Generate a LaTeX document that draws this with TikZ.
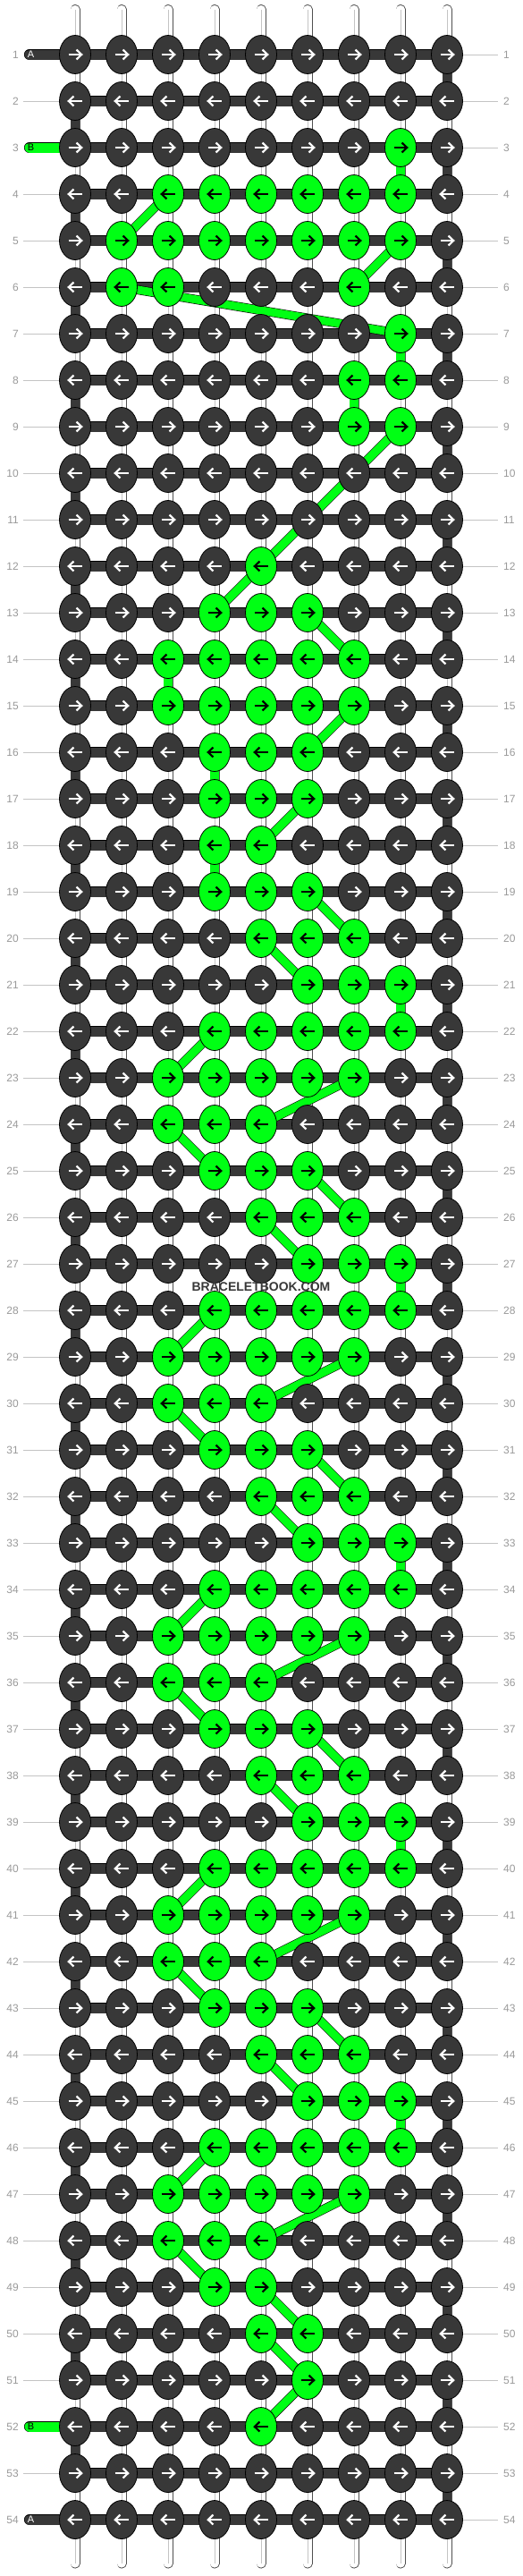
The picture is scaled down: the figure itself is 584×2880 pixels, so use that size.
\documentclass[tikz,border=0pt]{standalone}
\usepackage{fontspec}
\setmainfont{Liberation Sans}
\usetikzlibrary{shapes.geometric}
\definecolor{dk}{HTML}{383838}
\definecolor{gr}{HTML}{00FF14}
\definecolor{lb}{HTML}{9A9A9A}
\definecolor{ln}{HTML}{C4C4C4}
\definecolor{so}{HTML}{505050}
\pgfdeclarelayer{strings}
\pgfdeclarelayer{links}
\pgfsetlayers{strings,links,main}
\begin{document}
\begin{tikzpicture}[x=1pt,y=-1pt,
 knot/.style={ellipse, draw=black, line width=0.8pt, minimum width=35pt, minimum height=43pt, inner sep=0pt},
 arr/.style={line width=2.2pt},
 vstring/.style={draw=so, double=white, double distance=9.2pt, line width=0.9pt, line cap=round},
 vcore/.style={draw=ln, line width=0.7pt},
 hbar/.style={draw=black, double=dk, double distance=11pt, line width=0.6pt},
 dseg/.style={draw=black, double=dk, double distance=9.6pt, line width=0.6pt},
 gseg/.style={draw=black, double=gr, double distance=9.6pt, line width=0.6pt},
 gband/.style={draw=black, double=gr, double distance=9pt, line width=0.6pt},
 stubdk/.style={draw=black, double=dk, double distance=11pt, line width=0.6pt, line cap=round},
 stubgr/.style={draw=black, double=gr, double distance=11pt, line width=0.6pt, line cap=round},
 rowline/.style={draw=ln, line width=0.8pt},
 num/.style={text=lb, font=\fontsize{12}{12}\selectfont, inner sep=0pt},
 ab/.style={font=\fontsize{11}{11}\selectfont, inner sep=0pt},
 wmark/.style={text=dk, font=\bfseries\fontsize{14}{14}\selectfont, inner sep=0pt}
]
\useasboundingbox (0,0) rectangle (584,2880);

% green knots
\foreach \r/\cs in {3/{8},4/{3,...,8},5/{2,...,8},6/{2,3,7},7/{8},8/{7,8},9/{7,8},
  12/{5},13/{4,5,6},14/{3,...,7},15/{3,...,7},16/{4,5,6},17/{4,5,6},18/{4,5},19/{4,5,6},
  20/{5,6,7},21/{6,7,8},22/{4,...,8},23/{3,...,7},24/{3,4,5},25/{4,5,6},26/{5,6,7},27/{6,7,8},
  28/{4,...,8},29/{3,...,7},30/{3,4,5},31/{4,5,6},32/{5,6,7},33/{6,7,8},34/{4,...,8},
  35/{3,...,7},36/{3,4,5},37/{4,5,6},38/{5,6,7},39/{6,7,8},40/{4,...,8},41/{3,...,7},
  42/{3,4,5},43/{4,5,6},44/{5,6,7},45/{6,7,8},46/{4,...,8},47/{3,...,7},48/{3,4,5},
  49/{4,5},50/{5,6},51/{6},52/{5}}{
  \foreach \c in \cs {\expandafter\gdef\csname gk-\r-\c\endcsname{1}}
}

% string ends
\foreach \c in {1,...,9}{
  \pgfmathsetmacro\xx{84+52*(\c-1)}
  \coordinate (top-\c) at (\xx,10.5);
  \coordinate (bot-\c) at (\xx,2866);
}

% knots with arrows
\foreach \r in {1,...,54}{
  \pgfmathsetmacro\yy{61+52*(\r-1)}
  \pgfmathtruncatemacro\dir{1-2*mod(\r+1,2)}
  \foreach \c in {1,...,9}{
    \pgfmathsetmacro\xx{84+52*(\c-1)}
    \ifcsname gk-\r-\c\endcsname \def\kf{gr}\def\ac{black}\else\def\kf{dk}\def\ac{white}\fi
    \node[knot, fill=\kf] (k-\r-\c) at (\xx,\yy) {};
    \draw[arr, draw=\ac] ([xshift={-7.5*\dir}]k-\r-\c.center) -- ([xshift={6.2*\dir}]k-\r-\c.center);
    \draw[arr, draw=\ac] ([xshift={1.6*\dir},yshift=5.4]k-\r-\c.center) -- ([xshift={7.2*\dir}]k-\r-\c.center) -- ([xshift={1.6*\dir},yshift=-5.4]k-\r-\c.center);
  }
  \coordinate (ll-\r) at (26,\yy);
  \coordinate (rr-\r) at (557,\yy);
  \node[num, anchor=east] (nl-\r) at (21,\yy) {\r};
  \node[num, anchor=west] (nr-\r) at (563,\yy) {\r};
  \draw[rowline] (k-\r-9.east) -- (rr-\r);
}
\foreach \r in {2,4,5,...,51,53}{
  \draw[rowline] (ll-\r) -- (k-\r-1.west);
}

% background and vertical strings
\begin{pgfonlayer}{strings}
  \fill[white] (0,0) rectangle (584,2880);
  \foreach \c in {1,...,9}{
    \draw[vstring] (top-\c) -- (bot-\c);
    \draw[vcore] (top-\c) -- (bot-\c);
  }
\end{pgfonlayer}

\begin{pgfonlayer}{links}
  % horizontal bars
  \foreach \r in {1,...,54}{
    \draw[hbar] (k-\r-1.center) -- (k-\r-9.center);
  }
  % turns at the edges
  \foreach \r in {1,3,...,53}{
    \pgfmathtruncatemacro\rn{\r+1}
    \draw[dseg] (k-\r-9.center) -- (k-\rn-9.center);
  }
  \foreach \r in {2,4,...,52}{
    \pgfmathtruncatemacro\rn{\r+1}
    \draw[dseg] (k-\r-1.center) -- (k-\rn-1.center);
  }
  % green straight segments
  \foreach \r/\c in {3/8,7/8,8/7,14/3,16/4,18/4,21/8,27/8,33/8,39/8,45/8}{
    \pgfmathtruncatemacro\rn{\r+1}
    \draw[gseg] (k-\r-\c.center) -- (k-\rn-\c.center);
  }
  % green diagonals
  \foreach \ra/\ca/\rb/\cb in {4/3/5/2,5/8/6/7,6/2/7/8,9/8/12/5,12/5/13/4,13/6/14/7,15/7/16/6,
    17/6/18/5,19/6/20/7,20/5/21/6,22/4/23/3,23/7/24/5,24/3/25/4,25/6/26/7,26/5/27/6,
    28/4/29/3,29/7/30/5,30/3/31/4,31/6/32/7,32/5/33/6,34/4/35/3,35/7/36/5,36/3/37/4,
    37/6/38/7,38/5/39/6,40/4/41/3,41/7/42/5,42/3/43/4,43/6/44/7,44/5/45/6,46/4/47/3,
    47/7/48/5,48/3/49/4,49/5/50/6,50/5/51/6,51/6/52/5}{
    \draw[gband] (k-\ra-\ca.center) -- (k-\rb-\cb.center);
  }
  % start/end stubs
  \coordinate (sa-1) at (33,61);
  \coordinate (sb-3) at (33,165);
  \coordinate (sb-52) at (33,2713);
  \coordinate (sa-54) at (33,2817);
  \draw[stubdk] (sa-1) -- (k-1-1.center);
  \draw[stubgr] (sb-3) -- (k-3-1.center);
  \draw[stubgr] (sb-52) -- (k-52-1.center);
  \draw[stubdk] (sa-54) -- (k-54-1.center);
\end{pgfonlayer}

\node[ab, text=white] (la-1) at (34.5,61) {A};
\node[ab, text=black] (lb-3) at (34.5,165) {B};
\node[ab, text=black] (lb-52) at (34.5,2713) {B};
\node[ab, text=white] (la-54) at (34.5,2817) {A};

\node[wmark] (wm) at (292,1439) {BRACELETBOOK.COM};
\end{tikzpicture}
\end{document}
